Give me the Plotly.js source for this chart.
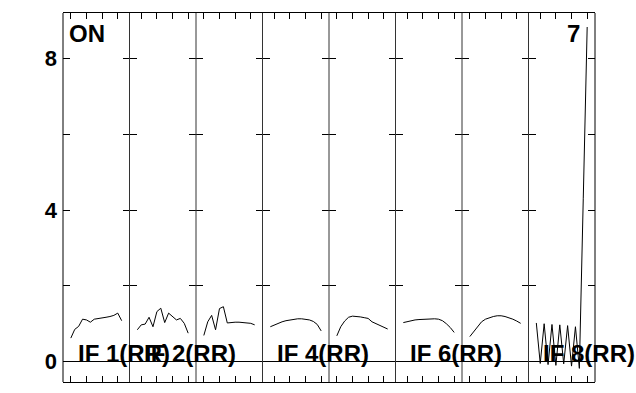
<!DOCTYPE html>
<html>
<head>
<meta charset="utf-8">
<script src="https://cdn.plot.ly/plotly-3.0.1.min.js"></script>
<style>
html, body { margin: 0; padding: 0; background: #ffffff; }
#chart { width: 636px; height: 393px; }
</style>
</head>
<body>
<div id="chart"></div>
<script>
// ---- data ----
const channels = [0, 1, 2, 3, 4, 5, 6, 7, 8, 9, 10, 11, 12, 13];
const if1 = [0.62, 0.85, 0.93, 1.12, 1.10, 1.04, 1.12, 1.14, 1.17, 1.17, 1.19, 1.22, 1.28, 1.08];
const if2 = [0.84, 0.97, 0.99, 1.17, 0.92, 1.32, 1.41, 1.03, 1.28, 1.19, 1.10, 1.14, 1.01, 0.75];
const if3 = [0.69, 1.05, 1.22, 0.84, 1.40, 1.45, 1.02, 1.04, 1.04, 1.04, 1.03, 1.02, 1.01, 0.97];
const if4 = [0.92, 0.97, 1.01, 1.05, 1.08, 1.10, 1.12, 1.13, 1.13, 1.12, 1.10, 1.06, 0.98, 0.81];
const if5 = [0.68, 0.92, 1.07, 1.17, 1.20, 1.20, 1.18, 1.16, 1.14, 1.05, 1.00, 0.96, 0.92, 0.86];
const if6 = [1.03, 1.06, 1.08, 1.10, 1.11, 1.12, 1.13, 1.13, 1.13, 1.12, 1.08, 1.00, 0.90, 0.77];
const if7 = [0.66, 0.80, 0.93, 1.05, 1.12, 1.16, 1.19, 1.21, 1.21, 1.19, 1.16, 1.12, 1.07, 1.01];
const if8 = [1.02, -0.05, 1.00, -0.08, 0.98, -0.10, 0.97, -0.06, 0.95, -0.12, 0.92, -0.18, 4.30, 8.84];
const panelLabels = ['IF 1(RR)', 'IF 2(RR)', '', 'IF 4(RR)', '', 'IF 6(RR)', '', 'IF 8(RR)'];
const oddPanelTicks = [0, 4, 8, 12];
const evenPanelTicks = [1, 5, 9, 13];
const yTickVals = [0, 2, 4, 6, 8];
const yTickText = ['0', '', '4', '', '8'];
const cornerLeftText = 'ON';
const cornerRightText = '7';

// ---- build ----
const series = [if1, if2, if3, if4, if5, if6, if7, if8];
const nPanels = series.length;
const FONT = 'Liberation Sans, Arial, sans-serif';
const traces = [];
const layout = {
  width: 636, height: 393,
  margin: { l: 63, r: 41, t: 13, b: 11, pad: 0 },
  paper_bgcolor: '#ffffff', plot_bgcolor: '#ffffff',
  showlegend: false,
  font: { family: FONT, size: 22, color: '#000000' },
  annotations: [],
  shapes: []
};
for (let i = 0; i < nPanels; i++) {
  const sfx = i === 0 ? '' : String(i + 1);
  traces.push({
    x: channels, y: series[i],
    xaxis: 'x' + sfx, yaxis: 'y' + sfx,
    type: 'scatter', mode: 'lines',
    line: { color: '#000000', width: 1 },
    hoverinfo: 'skip', cliponaxis: true
  });
  layout['xaxis' + sfx] = {
    domain: [i / nPanels, (i + 1) / nPanels],
    range: [-2, 15],
    anchor: 'y' + sfx,
    tickmode: 'array',
    tickvals: (i % 2 === 0) ? oddPanelTicks : evenPanelTicks,
    ticks: 'inside', ticklen: 6, tickwidth: 1, tickcolor: '#000000',
    showticklabels: false,
    showline: true, linecolor: '#000000', linewidth: 1, mirror: 'ticks',
    showgrid: false, zeroline: false, fixedrange: true
  };
  layout['yaxis' + sfx] = {
    anchor: 'x' + sfx,
    range: [-0.54, 9.21],
    tickmode: 'array', tickvals: yTickVals, ticktext: yTickText,
    ticks: 'inside', ticklen: 7, tickwidth: 1, tickcolor: '#000000',
    showticklabels: i === 0,
    ticklabelstandoff: 5,
    tickfont: { family: FONT, size: 22, color: '#000000', weight: 'bold' },
    showline: false, mirror: 'ticks',
    showgrid: false,
    zeroline: true, zerolinecolor: '#000000', zerolinewidth: 1,
    fixedrange: true
  };
  if (panelLabels[i]) {
    layout.annotations.push({
      text: panelLabels[i],
      xref: 'x' + sfx, yref: 'y' + sfx,
      x: 1.3, y: -0.19, xanchor: 'left', yanchor: 'bottom',
      showarrow: false,
      font: { family: FONT, size: 24, color: '#000000', weight: 'bold' }
    });
  }
}
// panel separators (one line per panel boundary)
for (let k = 0; k <= nPanels; k++) {
  layout.shapes.push({
    type: 'line', xref: 'paper', yref: 'paper',
    x0: k / nPanels, x1: k / nPanels, y0: 0, y1: 1,
    line: { color: (k === 0 || k === nPanels) ? '#000000' : '#333333', width: 1 },
    layer: 'above'
  });
}
layout.annotations.push({
  text: cornerLeftText, xref: 'paper', yref: 'paper',
  x: 0.008, y: 0.986, xanchor: 'left', yanchor: 'top', showarrow: false,
  font: { family: FONT, size: 24, color: '#000000', weight: 'bold' }
});
layout.annotations.push({
  text: cornerRightText, xref: 'paper', yref: 'paper',
  x: 0.975, y: 0.986, xanchor: 'right', yanchor: 'top', showarrow: false,
  font: { family: FONT, size: 24, color: '#000000', weight: 'bold' }
});

Plotly.newPlot('chart', traces, layout, { staticPlot: true, displayModeBar: false });
</script>
</body>
</html>
